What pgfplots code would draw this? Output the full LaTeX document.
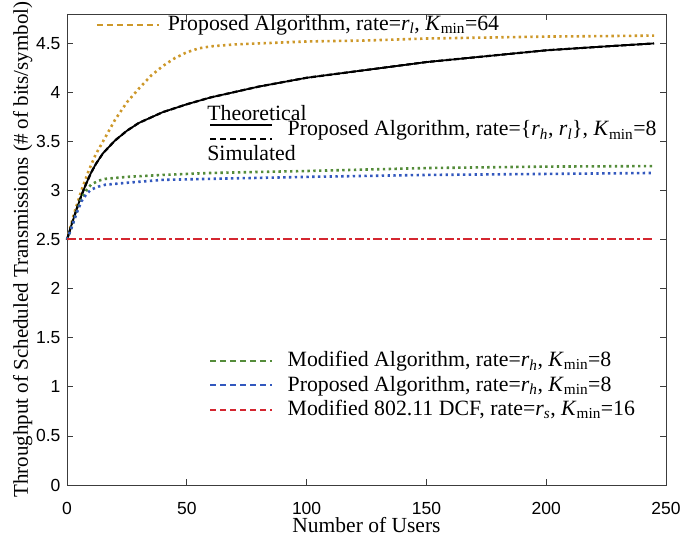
\documentclass[border=0pt]{standalone}
\usepackage{fontspec}
\setmainfont{Liberation Serif}
\newfontfamily\arialf{Liberation Sans}
\usepackage{pgfplots}
\pgfplotsset{compat=1.18}
\definecolor{cgold}{RGB}{205,152,42}
\definecolor{cgreen}{RGB}{84,140,58}
\definecolor{cblue}{RGB}{50,88,190}
\definecolor{cred}{RGB}{212,38,48}
\definecolor{axgray}{RGB}{60,60,60}
\newcommand{\lfont}{\fontsize{21.8bp}{25bp}\selectfont}
\newcommand{\ri}[1]{\textit{r}\textsubscript{\textit{#1}}}
\newcommand{\Km}{\textit{K}\textsubscript{min}}
\begin{document}
\begin{tikzpicture}
\useasboundingbox (0,0) rectangle (694bp,536bp);
\begin{axis}[
  at={(67bp,51bp)}, anchor=south west,
  scale only axis, width=599bp, height=471bp,
  xmin=0, xmax=250, ymin=0, ymax=4.8,
  xtick={0,50,...,250}, ytick={0,0.5,...,4.5},
  axis line style={axgray, line width=0.8bp},
  tick style={axgray, line width=0.8bp},
  major tick length=6bp, tick align=inside,
  xtick pos=both, ytick pos=both,
  /pgf/number format/assume math mode=true,
  tick label style={font=\arialf\fontsize{17.5bp}{20bp}\selectfont, text=black},
  xticklabel style={anchor=base, yshift=-29bp, inner sep=0pt, text depth=0pt},
  yticklabel style={xshift=-3bp},
  xlabel={Number of Users},
  ylabel={Throughput of Scheduled Transmissions (\# of bits/symbol)},
  label style={font=\fontsize{21bp}{25bp}\selectfont},
  xlabel style={at={(axis description cs:0.5,0)}, anchor=base, yshift=-47bp, inner sep=0pt, text depth=0pt, font=\fontsize{21.5bp}{25bp}\selectfont},
  ylabel style={yshift=-3bp},
  clip=false,
]
% gold
\addplot[cgold, line width=2.6bp, dash pattern=on 2.4bp off 3.4bp] coordinates {
(0,2.5)(3,2.77)(6,3.0)(9,3.2)(12,3.37)(15,3.5)(20,3.72)(25,3.9)(30,4.04)(35,4.17)(40,4.27)(45,4.35)(50,4.41)(55,4.45)(60,4.47)(70,4.49)(80,4.5)(100,4.52)(125,4.53)(150,4.55)(175,4.56)(200,4.57)(225,4.575)(245,4.58)};
% black theoretical
\addplot[black, line width=1.8bp] coordinates {
(0,2.5)(2,2.66)(4,2.81)(6,2.95)(8,3.07)(10,3.18)(12,3.27)(15,3.38)(20,3.51)(25,3.61)(30,3.69)(40,3.8)(50,3.88)(60,3.95)(80,4.06)(100,4.15)(125,4.23)(150,4.31)(175,4.37)(200,4.43)(225,4.47)(245,4.5)};
\addplot[black, line width=2.2bp, dash pattern=on 5bp off 3bp] coordinates {
(0,2.5)(2,2.66)(4,2.81)(6,2.95)(8,3.07)(10,3.18)(12,3.27)(15,3.38)(20,3.51)(25,3.61)(30,3.69)(40,3.8)(50,3.88)(60,3.95)(80,4.06)(100,4.15)(125,4.23)(150,4.31)(175,4.37)(200,4.43)(225,4.47)(245,4.5)};
% green
\addplot[cgreen, line width=2.6bp, dash pattern=on 2.4bp off 3.4bp] coordinates {
(0,2.5)(2,2.63)(4,2.78)(6,2.92)(8,3.0)(10,3.06)(13,3.1)(16,3.12)(25,3.14)(40,3.16)(60,3.18)(100,3.2)(150,3.23)(200,3.245)(245,3.25)};
% blue
\addplot[cblue, line width=2.6bp, dash pattern=on 2.4bp off 3.4bp] coordinates {
(0,2.5)(2,2.63)(4,2.77)(6,2.89)(8,2.96)(10,3.01)(13,3.04)(16,3.06)(25,3.08)(40,3.11)(60,3.12)(100,3.14)(150,3.16)(200,3.17)(245,3.18)};
% red
\addplot[cred, line width=2bp, dash pattern=on 9bp off 3bp on 3bp off 3bp] coordinates {
(0,2.51)(50,2.51)(100,2.51)(150,2.51)(200,2.51)(245,2.51)};

% legends
\draw[cgold, line width=2bp, dash pattern=on 6bp off 4bp] (axis cs:12.5,4.69) -- (axis cs:38.5,4.69);
\node[anchor=west, font=\lfont, inner sep=0pt] at (axis cs:42,4.69) {Proposed Algorithm, rate=\ri{l}, \Km=64};

\node[anchor=west, font=\lfont, inner sep=0pt] at (axis cs:58.5,3.79) {Theoretical};
\draw[black, line width=2bp] (axis cs:59.8,3.665) -- (axis cs:85.6,3.665);
\draw[black, line width=2bp, dash pattern=on 6bp off 4bp] (axis cs:59.8,3.525) -- (axis cs:85.6,3.525);
\node[anchor=west, font=\lfont, inner sep=0pt] at (axis cs:58.5,3.38) {Simulated};
\node[anchor=west, font=\lfont, inner sep=0pt] at (axis cs:92,3.61) {Proposed Algorithm, rate=\{\ri{h}, \ri{l}\}, \Km=8};

\draw[cgreen, line width=2bp, dash pattern=on 6bp off 4bp] (axis cs:59.8,1.265) -- (axis cs:85.6,1.265);
\node[anchor=west, font=\lfont, inner sep=0pt] at (axis cs:92,1.26) {Modified Algorithm, rate=\ri{h}, \Km=8};
\draw[cblue, line width=2bp, dash pattern=on 6bp off 4bp] (axis cs:59.8,1.015) -- (axis cs:85.6,1.015);
\node[anchor=west, font=\lfont, inner sep=0pt] at (axis cs:92,1.01) {Proposed Algorithm, rate=\ri{h}, \Km=8};
\draw[cred, line width=2bp, dash pattern=on 6bp off 4bp] (axis cs:59.8,0.765) -- (axis cs:85.6,0.765);
\node[anchor=west, font=\lfont, inner sep=0pt] at (axis cs:92,0.77) {Modified 802.11 DCF, rate=\ri{s}, \Km=16};
\end{axis}
\end{tikzpicture}
\end{document}
